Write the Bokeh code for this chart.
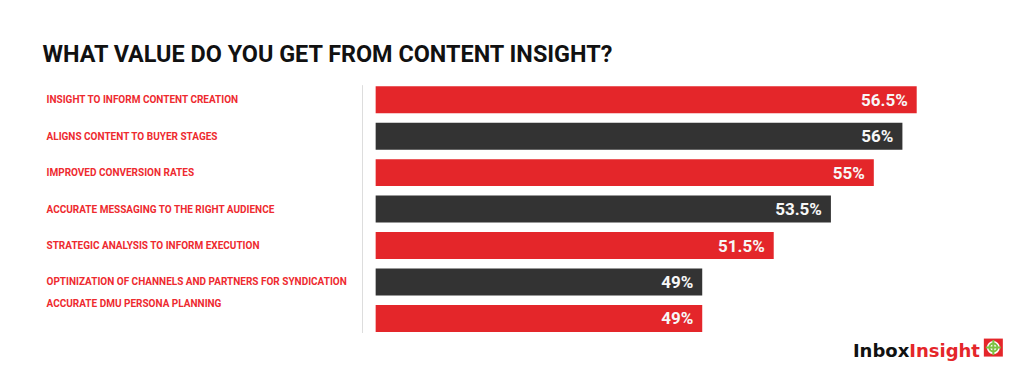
from bokeh.plotting import figure
from bokeh.models import ColumnDataSource, Range1d
from bokeh.core.properties import value
from bokeh.embed import file_html
from bokeh.resources import INLINE

# ---- data ----
categories = [
    "INSIGHT TO INFORM CONTENT CREATION",
    "ALIGNS CONTENT TO BUYER STAGES",
    "IMPROVED CONVERSION RATES",
    "ACCURATE MESSAGING TO THE RIGHT AUDIENCE",
    "STRATEGIC ANALYSIS TO INFORM EXECUTION",
    "OPTINIZATION OF CHANNELS AND PARTNERS FOR SYNDICATION",
    "ACCURATE DMU PERSONA PLANNING",
]
values = [56.5, 56, 55, 53.5, 51.5, 49, 49]
title_text = "WHAT VALUE DO YOU GET FROM CONTENT INSIGHT?"

# ---- layout / style ----
RED = "#e4262a"
DARK = "#333333"
GREEN = "#7dc242"
X_START, X_END = 25.93, 59.71
Y_START, Y_END = -1.374, 6.5
BASE = 37.58
LINE_X = 37.12
LOGO_X, LOGO_Y = 56.24, -0.87
ICON_X, ICON_Y = 59.18, -0.80

n = len(categories)
ypos = [n - 1 - i for i in range(n)]          # row positions, top row first
colors = [RED if i % 2 == 0 else DARK for i in range(n)]
label_yoff = [0] * n
label_yoff[-1] = -15
source = ColumnDataSource(dict(
    cat=categories,
    y=ypos,
    val=values,
    txt=[f"{v:g}%" for v in values],
    color=colors,
    base=[BASE] * n,
    lx=[X_START] * n,
    lyoff=label_yoff,
))

p = figure(
    width=1008, height=368,
    x_range=Range1d(X_START, X_END),
    y_range=Range1d(Y_START, Y_END),
    output_backend="svg", toolbar_location=None,
    x_axis_location=None, y_axis_location=None,
    min_border_left=42, min_border_right=0,
    min_border_top=81, min_border_bottom=0,
)
p.outline_line_color = None
p.xgrid.visible = False
p.ygrid.visible = False
p.background_fill_color = "white"
p.border_fill_color = "white"

p.title.text = title_text
p.title.text_font = "Roboto"
p.title.text_font_size = "23.4px"
p.title.text_font_style = "bold"
p.title.text_color = "#111111"
p.title.align = "left"
p.title.standoff = 28

# thin divider between labels and bars
p.segment(x0=[LINE_X], y0=[-0.4], x1=[LINE_X], y1=[n - 0.6],
          line_color="#dddddd", line_width=1)

p.hbar(y="y", left="base", right="val", height=0.74,
       fill_color="color", line_color=None, source=source)

p.text(x="val", y="y", text="txt", source=source,
       x_offset=-9, text_align="right", text_baseline="middle",
       text_color="#f7f7f7", text_font=value("Roboto"),
       text_font_size="17px", text_font_style="bold")

p.text(x="lx", y="y", text="cat", source=source,
       x_offset=4, y_offset="lyoff", text_align="left", text_baseline="middle",
       text_color="#ee2a2f", text_font=value("Roboto"),
       text_font_size="10px", text_font_style="bold")

# logo
p.text(x=[LOGO_X], y=[LOGO_Y], text=["Inbox"], text_align="right",
       text_baseline="alphabetic", text_color="#111111",
       text_font=value("DejaVu Sans"), text_font_size="18px",
       text_font_style="bold")
p.text(x=[LOGO_X], y=[LOGO_Y], text=["Insight"], text_align="left",
       text_baseline="alphabetic", text_color=RED,
       text_font=value("DejaVu Sans"), text_font_size="18px",
       text_font_style="bold")
p.rect(x=[ICON_X], y=[ICON_Y], width=19, height=18,
       width_units="screen", height_units="screen",
       fill_color=RED, line_color=None)
p.scatter(x=[ICON_X], y=[ICON_Y], marker="circle", size=13,
          fill_color="white", line_color=None)
p.scatter(x=[ICON_X], y=[ICON_Y], marker="circle", size=8,
          fill_color=None, line_color=GREEN, line_width=2)
p.scatter(x=[ICON_X], y=[ICON_Y], marker="cross", size=15,
          line_color=GREEN, line_width=2)

open("out.html", "w").write(file_html(p, INLINE))
